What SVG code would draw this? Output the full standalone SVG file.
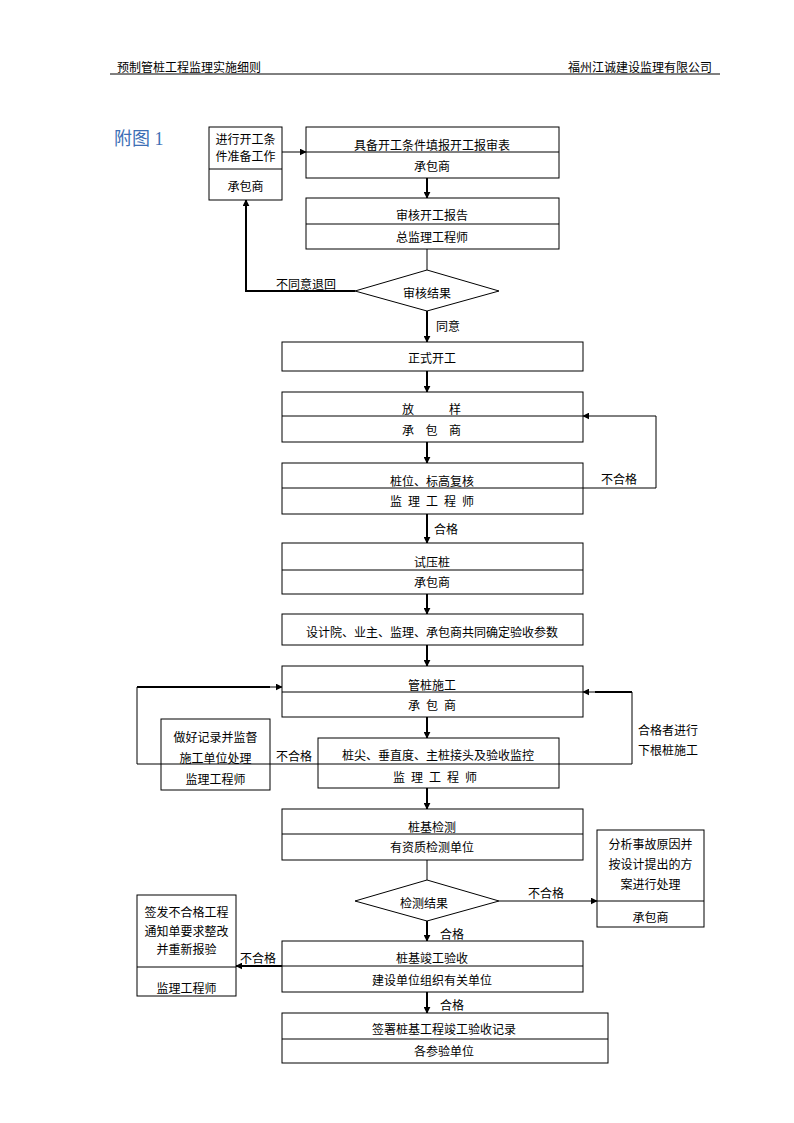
<svg xmlns="http://www.w3.org/2000/svg" width="794" height="1123" viewBox="0 0 794 1123">
<defs>
<style>
text{font-family:"Noto Sans CJK SC","Noto Sans",sans-serif;font-size:12px;fill:#000;dominant-baseline:central}
.c{text-anchor:middle}
.box{fill:#fff;stroke:#000;stroke-width:1}
.div{stroke:#000;stroke-width:1}
.ln{fill:none;stroke:#000;stroke-width:1}
.th{fill:none;stroke:#000;stroke-width:2}
</style>
<marker id="ah" viewBox="0 0 10 10" refX="9" refY="5" markerWidth="7" markerHeight="7" markerUnits="userSpaceOnUse" orient="auto"><path d="M0,0 L10,5 L0,10 z" fill="#000"/></marker>
</defs>
<rect width="794" height="1123" fill="#fff"/>
<g id="header">
<text x="117" y="66">预制管桩工程监理实施细则</text>
<text x="712" y="66" style="text-anchor:end">福州江诚建设监理有限公司</text>
<line x1="110" y1="74" x2="720" y2="74" class="div"/>
<text x="114" y="139" style="font-family:'Liberation Serif','Noto Sans CJK SC',serif;font-size:18px;fill:#3d6fb5">附图 1</text>
</g>
<g id="connectors">
<line x1="282" y1="152" x2="306" y2="152" class="ln" marker-end="url(#ah)"/>
<line x1="427" y1="178" x2="427" y2="198" class="th" marker-end="url(#ah)"/>
<line x1="427" y1="249" x2="427" y2="270" class="ln"/>
<polyline points="355,291 246,291 246,200" class="th" marker-end="url(#ah)"/>
<line x1="427" y1="311" x2="427" y2="342" class="th" marker-end="url(#ah)"/>
<line x1="427" y1="371" x2="427" y2="392" class="th" marker-end="url(#ah)"/>
<line x1="427" y1="442" x2="427" y2="463" class="th" marker-end="url(#ah)"/>
<polyline points="583,488 656,488 656,416 583,416" class="ln" marker-end="url(#ah)"/>
<line x1="427" y1="514" x2="427" y2="543" class="th" marker-end="url(#ah)"/>
<line x1="427" y1="594" x2="427" y2="614" class="th" marker-end="url(#ah)"/>
<line x1="427" y1="645" x2="427" y2="666" class="th" marker-end="url(#ah)"/>
<line x1="427" y1="717" x2="427" y2="738" class="th" marker-end="url(#ah)"/>
<polyline points="318,764 137,764 137,687 282,687" class="ln" marker-end="url(#ah)"/>
<line x1="137" y1="687" x2="270" y2="687" class="th"/>
<polyline points="559,764 632,764 632,692 583,692" class="ln" marker-end="url(#ah)"/>
<line x1="632" y1="692" x2="595" y2="692" class="th"/>
<line x1="427" y1="788" x2="427" y2="809" class="th" marker-end="url(#ah)"/>
<line x1="427" y1="860" x2="427" y2="880" class="ln"/>
<line x1="499" y1="901" x2="597" y2="901" class="ln" marker-end="url(#ah)"/>
<line x1="427" y1="921" x2="427" y2="941" class="th" marker-end="url(#ah)"/>
<line x1="282" y1="966" x2="236" y2="966" class="th" marker-end="url(#ah)"/>
<line x1="427" y1="992" x2="427" y2="1013" class="th" marker-end="url(#ah)"/>
<text x="276" y="283">不同意退回</text>
<text x="436" y="325">同意</text>
<text x="601" y="478">不合格</text>
<text x="434" y="528">合格</text>
<text x="276" y="755">不合格</text>
<text x="638" y="729">合格者进行</text>
<text x="638" y="749">下根桩施工</text>
<text x="528" y="892">不合格</text>
<text x="440" y="933">合格</text>
<text x="240" y="957">不合格</text>
<text x="440" y="1004">合格</text>
</g>
<g id="nodeA">
<rect x="209" y="127" width="73" height="73" class="box"/>
<line x1="209" y1="169" x2="282" y2="169" class="div"/>
<text x="245.5" y="138" class="c">进行开工条</text>
<text x="245.5" y="155" class="c">件准备工作</text>
<text x="245.5" y="185" class="c">承包商</text>
</g>
<g id="nodeB">
<rect x="306" y="127" width="253" height="51" class="box"/>
<line x1="306" y1="152" x2="559" y2="152" class="div"/>
<text x="432" y="144" class="c">具备开工条件填报开工报审表</text>
<text x="432" y="165" class="c">承包商</text>
</g>
<g id="nodeC">
<rect x="306" y="198" width="253" height="51" class="box"/>
<line x1="306" y1="224" x2="559" y2="224" class="div"/>
<text x="432" y="214" class="c">审核开工报告</text>
<text x="432" y="236" class="c">总监理工程师</text>
</g>
<g id="decision1">
<polygon points="427,270 499,291 427,311 355,291" class="box"/>
<text x="427" y="292" class="c">审核结果</text>
</g>
<g id="nodeD">
<rect x="282" y="342" width="301" height="29" class="box"/>
<text x="432" y="357" class="c">正式开工</text>
</g>
<g id="nodeE">
<rect x="282" y="392" width="301" height="50" class="box"/>
<line x1="282" y1="416" x2="583" y2="416" class="div"/>
<text x="408" y="408" class="c">放</text>
<text x="455" y="408" class="c">样</text>
<text x="408" y="429" class="c">承</text>
<text x="431.5" y="429" class="c">包</text>
<text x="455" y="429" class="c">商</text>
</g>
<g id="nodeF">
<rect x="282" y="463" width="301" height="51" class="box"/>
<line x1="282" y1="488" x2="583" y2="488" class="div"/>
<text x="432" y="480" class="c">桩位、标高复核</text>
<text x="435" y="500" class="c" style="letter-spacing:6px">监理工程师</text>
</g>
<g id="nodeG">
<rect x="282" y="543" width="301" height="51" class="box"/>
<line x1="282" y1="570" x2="583" y2="570" class="div"/>
<text x="432" y="561" class="c">试压桩</text>
<text x="432" y="581" class="c">承包商</text>
</g>
<g id="nodeH">
<rect x="282" y="614" width="301" height="31" class="box"/>
<text x="432" y="631" class="c">设计院、业主、监理、承包商共同确定验收参数</text>
</g>
<g id="nodeI">
<rect x="282" y="666" width="301" height="51" class="box"/>
<line x1="282" y1="692" x2="583" y2="692" class="div"/>
<text x="432" y="684" class="c">管桩施工</text>
<text x="435" y="704" class="c" style="letter-spacing:6px">承包商</text>
</g>
<g id="nodeK">
<rect x="161" y="719" width="109" height="71" class="box"/>
<line x1="161" y1="764" x2="270" y2="764" class="div"/>
<text x="215.5" y="736" class="c">做好记录并监督</text>
<text x="215.5" y="757" class="c">施工单位处理</text>
<text x="215.5" y="778" class="c">监理工程师</text>
</g>
<g id="nodeJ">
<rect x="318" y="738" width="241" height="50" class="box"/>
<line x1="318" y1="764" x2="559" y2="764" class="div"/>
<text x="438" y="754" class="c">桩尖、垂直度、主桩接头及验收监控</text>
<text x="438" y="776" class="c" style="letter-spacing:6px">监理工程师</text>
</g>
<g id="nodeL">
<rect x="282" y="809" width="301" height="51" class="box"/>
<line x1="282" y1="834" x2="583" y2="834" class="div"/>
<text x="432" y="826" class="c">桩基检测</text>
<text x="432" y="846" class="c">有资质检测单位</text>
</g>
<g id="decision2">
<polygon points="427,880 499,901 427,921 355,901" class="box"/>
<text x="424" y="902" class="c">检测结果</text>
</g>
<g id="nodeM">
<rect x="597" y="830" width="107" height="97" class="box"/>
<line x1="597" y1="901" x2="704" y2="901" class="div"/>
<text x="650.5" y="843" class="c">分析事故原因并</text>
<text x="650.5" y="863" class="c">按设计提出的方</text>
<text x="650.5" y="883" class="c">案进行处理</text>
<text x="650.5" y="916" class="c">承包商</text>
</g>
<g id="nodeN">
<rect x="282" y="941" width="301" height="51" class="box"/>
<line x1="282" y1="966" x2="583" y2="966" class="div"/>
<text x="432" y="957" class="c">桩基竣工验收</text>
<text x="432" y="979" class="c">建设单位组织有关单位</text>
</g>
<g id="nodeO">
<rect x="137" y="895" width="99" height="101" class="box"/>
<line x1="137" y1="967" x2="236" y2="967" class="div"/>
<text x="186.5" y="911" class="c">签发不合格工程</text>
<text x="186.5" y="930" class="c">通知单要求整改</text>
<text x="186.5" y="948" class="c">并重新报验</text>
<text x="186.5" y="987" class="c">监理工程师</text>
</g>
<g id="nodeP">
<rect x="282" y="1013" width="326" height="50" class="box"/>
<line x1="282" y1="1039" x2="608" y2="1039" class="div"/>
<text x="444" y="1028" class="c">签署桩基工程竣工验收记录</text>
<text x="444" y="1050" class="c">各参验单位</text>
</g>
</svg>
